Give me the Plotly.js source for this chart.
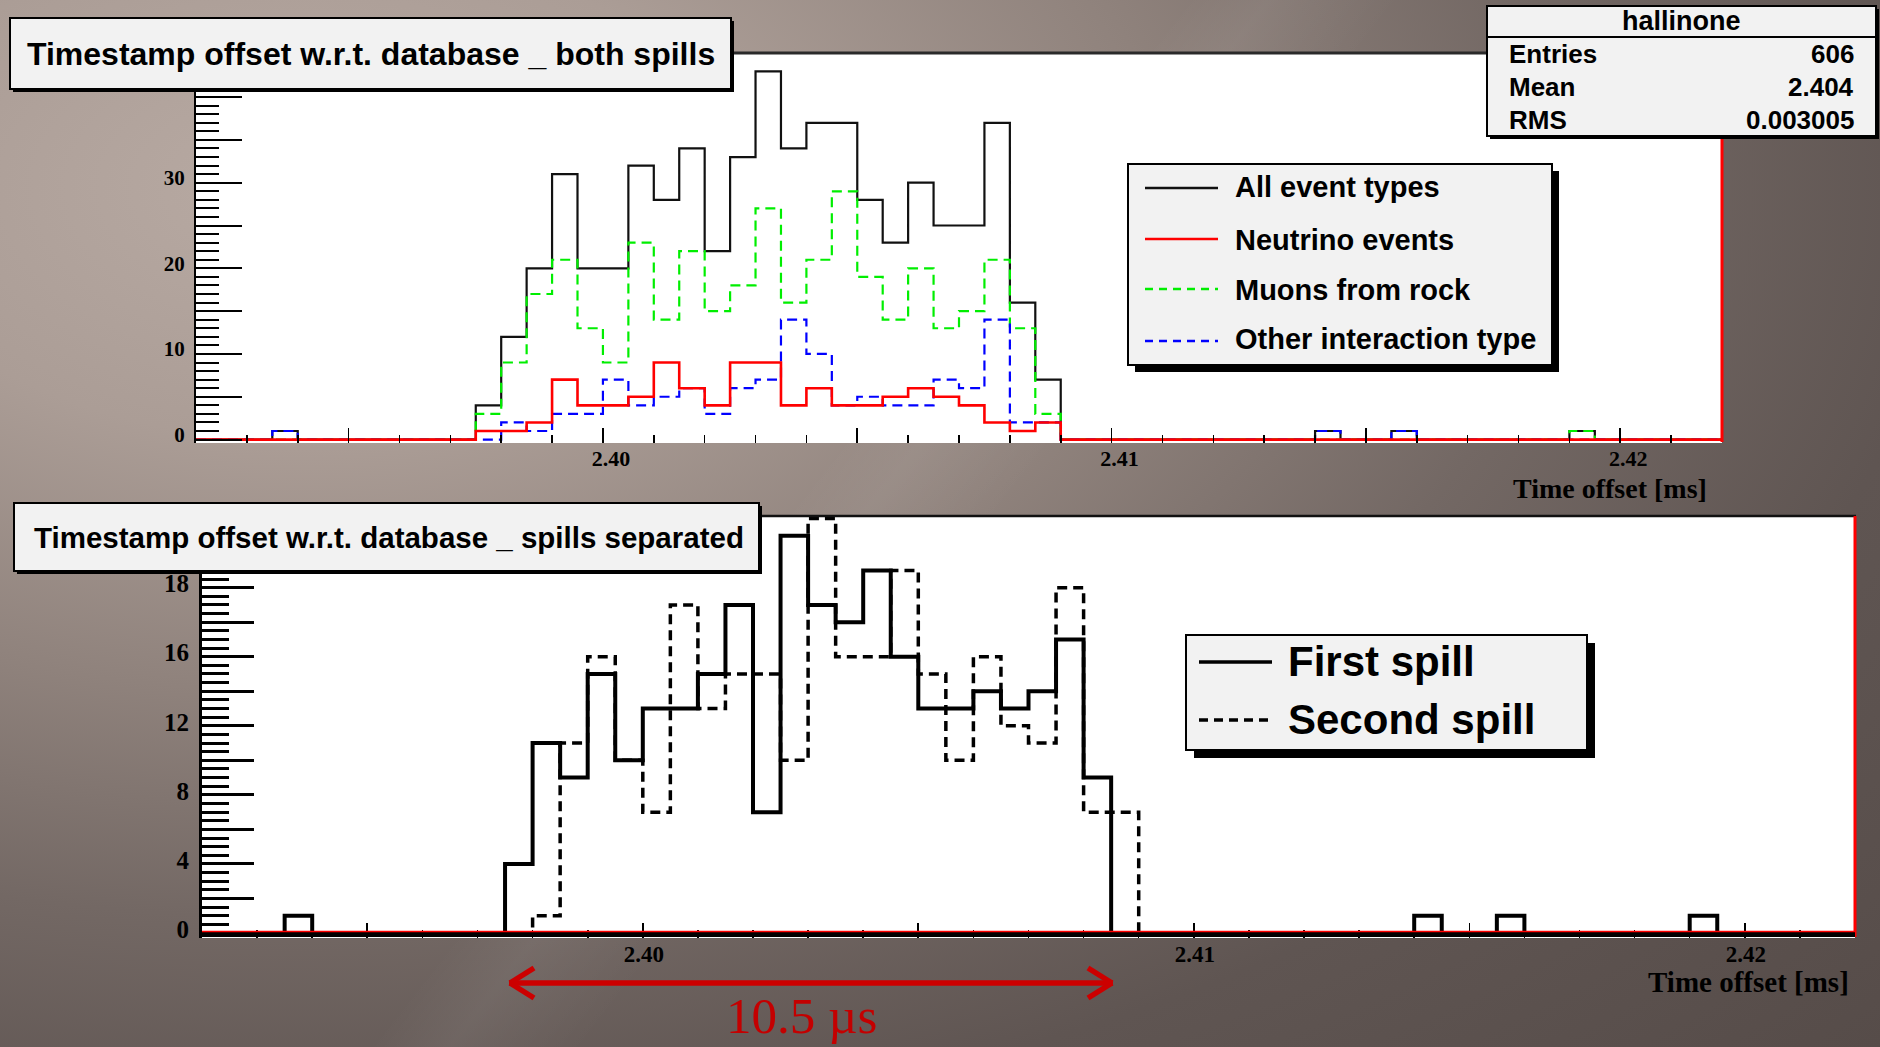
<!DOCTYPE html>
<html><head><meta charset="utf-8">
<script src="https://cdn.plot.ly/plotly-3.0.1.min.js"></script>
<style>
html,body{margin:0;padding:0;width:1880px;height:1047px;overflow:hidden;}
body{background:
 linear-gradient(128deg, rgba(255,255,255,0) 0%, rgba(255,255,255,0) 44%, rgba(255,255,255,0.05) 47%, rgba(255,255,255,0) 52%),
 radial-gradient(ellipse 115% 120% at 16% 18%, #b8aaa3 0%, #ab9d96 20%, #8f827c 40%, #736864 58%, #5f5552 76%, #564c49 100%);}
#chart{width:1880px;height:1047px;}
</style></head><body><div id="chart"></div>
<script>
// ---- data: 60 bins of 0.0005 ms from 2.392 to 2.422 ms ----
const binStart = 2.392;
const binWidth = 0.0005;
const allEvents = [0,0,0,1,0,0,0,0,0,0, 0,4,12,20,31,20,20,32,28,34, 22,33,43,34,37,37,28,23,30,25, 25,37,16,7,0,0,0,0,0,0, 0,0,0,0,1,0,0,1,0,0, 0,0,0,0,1,0,0,0,0,0];
const neutrinoEvents = [0,0,0,0,0,0,0,0,0,0, 0,1,1,2,7,4,4,5,9,6, 4,9,9,4,6,4,4,5,6,5, 4,2,1,2,0,0,0,0,0,0, 0,0,0,0,0,0,0,0,0,0, 0,0,0,0,0,0,0,0,0,0];
const muonsFromRock = [0,0,0,0,0,0,0,0,0,0, 0,3,9,17,21,13,9,23,14,22, 15,18,27,16,21,29,19,14,20,13, 15,21,13,3,0,0,0,0,0,0, 0,0,0,0,0,0,0,0,0,0, 0,0,0,0,1,0,0,0,0,0];
const otherInteraction = [0,0,0,1,0,0,0,0,0,0, 0,0,2,1,3,3,7,4,5,6, 3,6,7,14,10,4,5,4,4,7, 6,14,2,2,0,0,0,0,0,0, 0,0,0,0,1,0,0,1,0,0, 0,0,0,0,0,0,0,0,0,0];
const firstSpill = [0,0,0,1,0,0,0,0,0,0, 0,4,11,9,15,10,13,13,15,19, 7,23,19,18,21,16,13,13,14,13, 14,17,9,0,0,0,0,0,0,0, 0,0,0,0,1,0,0,1,0,0, 0,0,0,0,1,0,0,0,0,0];
const secondSpill = [0,0,0,0,0,0,0,0,0,0, 0,0,1,11,16,10,7,19,13,15, 15,10,24,16,16,21,15,10,16,12, 11,20,7,7,0,0,0,0,0,0, 0,0,0,0,0,0,0,0,0,0, 0,0,0,0,0,0,0,0,0,0];
const xTickVals = [2.395, 2.40, 2.405, 2.41, 2.415, 2.42];
const xTickText = ['', '2.40', '', '2.41', '', '2.42'];
const yTopVals = [0,5,10,15,20,25,30,35,40];
const yTopText = ['0','','10','','20','','30','',''];
const yBotVals = [0,2,4,6,8,10,12,14,16,18,20];
const yBotText = ['0','','4','','8','','12','','16','','18'];
const statRows = [['Entries','606'],['Mean','2.404'],['RMS','0.003005']];
const topLegend = ['All event types','Neutrino events','Muons from rock','Other interaction type'];
const botLegend = ['First spill','Second spill'];

const W = 1880, H = 1047;
const px = x => x / W;
const py = y => 1 - y / H;

function steps(counts){
  const x = [], y = [];
  for (let i = 0; i < counts.length; i++){ x.push(binStart + i*binWidth); y.push(counts[i]); }
  x.push(binStart + counts.length*binWidth); y.push(counts[counts.length-1]);
  return {x, y};
}
function hist(counts, color, width, dash, xa, ya){
  const s = steps(counts);
  return {type:'scatter', mode:'lines', x:s.x, y:s.y, xaxis:xa, yaxis:ya,
    line:{shape:'hv', color:color, width:width, dash:dash}, hoverinfo:'skip', showlegend:false};
}
const traces = [
  hist(allEvents, '#111111', 2.2, 'solid', 'x', 'y'),
  hist(muonsFromRock, '#00ee00', 2.2, '10px,6px', 'x', 'y'),
  hist(otherInteraction, '#0000ff', 2.2, '10px,6px', 'x', 'y'),
  hist(neutrinoEvents, '#ff0000', 2.6, 'solid', 'x', 'y'),
  hist(firstSpill, '#000000', 4, 'solid', 'x2', 'y2'),
  hist(secondSpill, '#000000', 3.5, '10px,6px', 'x2', 'y2')
];

const sans = 'Liberation Sans, Arial, sans-serif';
const serif = 'Liberation Serif, Times New Roman, serif';
function xAxis(dom, anchor, size, shift){
  return {domain:dom, range:[2.392, 2.422], anchor:anchor, tickmode:'array', tickvals:xTickVals, ticktext:xTickText,
    ticks:'inside', ticklen:15, tickwidth:1.6, tickcolor:'#000',
    minor:{tickmode:'linear', tick0:2.392, dtick:0.001, ticks:'inside', ticklen:8, tickwidth:1.6, tickcolor:'#000', showgrid:false},
    showgrid:false, zeroline:false, showline:false, fixedrange:true, ticklabelstandoff:0, ticklabelshift:shift,
    tickfont:{family:serif, size:size, color:'#000', weight:'bold'}};
}
function yAxis(dom, anchor, range, vals, text, len, minorD, minorLen, w, size, shift){
  return {domain:dom, range:range, anchor:anchor, tickmode:'array', tickvals:vals, ticktext:text,
    ticks:'inside', ticklen:len, tickwidth:w, tickcolor:'#000',
    minor:{tickmode:'linear', tick0:0, dtick:minorD, ticks:'inside', ticklen:minorLen, tickwidth:w, tickcolor:'#000', showgrid:false},
    showline:true, linecolor:'#000', linewidth:w, showgrid:false, zeroline:false, fixedrange:true, ticklabelstandoff:5, ticklabelshift:shift,
    tickfont:{family:serif, size:size, color:'#000', weight:'bold'}};
}

function line(x0,y0,x1,y1,color,width,dash){
  return {type:'line', xref:'paper', yref:'paper', x0:px(x0), y0:py(y0), x1:px(x1), y1:py(y1), layer:'above',
    line:{color:color, width:width, dash:dash||'solid'}};
}
function rect(x0,y0,x1,y1,fill,lc,lw){
  return {type:'rect', xref:'paper', yref:'paper', x0:px(x0), y0:py(y0), x1:px(x1), y1:py(y1), layer:'above',
    fillcolor:fill, line:{color:lc, width:lw}};
}
function box(x0,y0,x1,y1,sh){
  return [rect(x0+sh,y0+sh,x1+sh,y1+sh,'#000','#000',0), rect(x0,y0,x1,y1,'#f2f2f2','#000',2)];
}
function txt(t,x,y,anchor,family,size,color,weight,yanchor){
  return {text:t, xref:'paper', yref:'paper', x:px(x), y:py(y), xanchor:anchor, yanchor:yanchor||'middle', showarrow:false,
    font:{family:family, size:size, color:color||'#000', weight:weight||'normal'}};
}

const shapes = [
  // frames
  line(195,53,1723,53,'#2a2a2a',3),
  line(1722,52,1722,442,'#ff0000',3),
  line(201,516,1856,516,'#111',2.5),
  line(1855,516,1855,937,'#ff0000',3),
  line(202,934.5,1855,934.5,'#000',5),
  line(202,931.5,1855,931.5,'#ff0000',1.5),
  ...box(10,18,731,89,3),
  ...box(14,503,759,571,3),
  ...box(1487,6,1876,136,3),
  line(1487,37,1876,37,'#000',2),
  ...box(1128,164,1552,365,7),
  ...box(1186,635,1587,750,8),
  // legend samples
  line(1145,188,1218,188,'#111',2.5),
  line(1145,239,1218,239,'#ff0000',2.5),
  line(1145,289,1218,289,'#00ee00',2.5,'8px,6px'),
  line(1145,341,1218,341,'#0000ff',2.5,'8px,6px'),
  line(1199,662,1272,662,'#000',3.5),
  line(1199,720,1272,720,'#000',3.5,'9px,6px'),
  // red double arrow
  line(509,983,1113,983,'#cc0000',5.5),
  line(510,983,534,968,'#cc0000',5.5),
  line(510,983,534,998,'#cc0000',5.5),
  line(1112,983,1088,968,'#cc0000',5.5),
  line(1112,983,1088,998,'#cc0000',5.5)
];

const annotations = [
  txt('Timestamp offset w.r.t. database _ both spills', 371, 54, 'center', sans, 32, '#000', 'bold'),
  txt('Timestamp offset w.r.t. database _ spills separated', 389, 537, 'center', sans, 29.5, '#000', 'bold'),
  txt('hallinone', 1681, 21, 'center', sans, 27, '#000', 'bold'),
  txt('Time offset [ms]', 1709, 488, 'right', serif, 28, '#000', 'bold'),
  txt('Time offset [ms]', 1851, 982, 'right', serif, 29, '#000', 'bold'),
  txt('10.5 \u00b5s', 801, 1046, 'center', serif, 51, '#c40000', 'normal', 'bottom')
];
statRows.forEach((r,i) => {
  annotations.push(txt(r[0], 1507, 54 + i*33, 'left', sans, 26, '#000', 'bold'));
  annotations.push(txt(r[1], 1856, 54 + i*33, 'right', sans, 26, '#000', 'bold'));
});
topLegend.forEach((t,i) => annotations.push(txt(t, 1233, [187,240,290,339][i], 'left', sans, 29, '#000', 'bold')));
botLegend.forEach((t,i) => annotations.push(txt(t, 1286, [661,719][i], 'left', sans, 42, '#000', 'bold')));

const layout = {
  width:W, height:H, margin:{l:0,r:0,t:0,b:0}, paper_bgcolor:'rgba(0,0,0,0)', plot_bgcolor:'#ffffff',
  showlegend:false,
  xaxis: xAxis([px(196), px(1722)], 'y', 22, 8),
  yaxis: yAxis([py(443), py(53)], 'x', [-0.4, 45.15], yTopVals, yTopText, 46, 1, 23, 2, 21, -5),
  xaxis2: xAxis([px(202), px(1855)], 'y2', 23, 1),
  yaxis2: yAxis([py(938), py(516)], 'x2', [-0.29, 24.15], yBotVals, yBotText, 52, 0.5, 27, 3, 25, -4),
  shapes: shapes,
  annotations: annotations
};
Plotly.newPlot('chart', traces, layout, {displayModeBar:false, staticPlot:true});
</script></body></html>
